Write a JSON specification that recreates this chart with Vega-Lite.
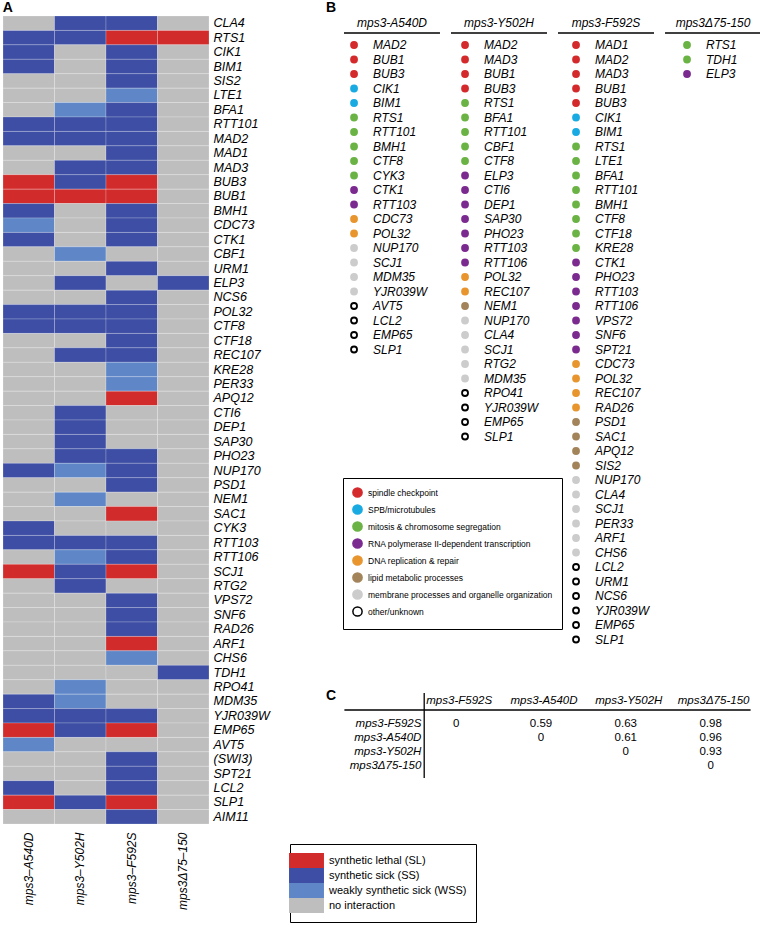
{
"$schema": "https://vega.github.io/schema/vega-lite/v6.json",
"background": "white",
"padding": {"left": 2, "top": 0, "right": 0, "bottom": 0},
"bounds": "flush",
"spacing": 128,
"config": {"view": {"stroke": null}, "font": "Liberation Sans", "title": {"font": "Liberation Sans", "color": "black"}},
"resolve": {"legend": {"color": "independent", "fill": "independent", "stroke": "independent"}},
"hconcat": [
{
"width": 206, "height": 808,
"title": {"text": "A", "anchor": "start", "fontSize": 14, "fontWeight": "bold", "offset": 1},
"data": {"values": [
{"g":"CLA4","m":"mps3–A540D","v":"N"},{"g":"CLA4","m":"mps3–Y502H","v":"SS"},{"g":"CLA4","m":"mps3–F592S","v":"SS"},{"g":"CLA4","m":"mps3Δ75–150","v":"N"},
{"g":"RTS1","m":"mps3–A540D","v":"SS"},{"g":"RTS1","m":"mps3–Y502H","v":"SS"},{"g":"RTS1","m":"mps3–F592S","v":"SL"},{"g":"RTS1","m":"mps3Δ75–150","v":"SL"},
{"g":"CIK1","m":"mps3–A540D","v":"SS"},{"g":"CIK1","m":"mps3–Y502H","v":"N"},{"g":"CIK1","m":"mps3–F592S","v":"SS"},{"g":"CIK1","m":"mps3Δ75–150","v":"N"},
{"g":"BIM1","m":"mps3–A540D","v":"SS"},{"g":"BIM1","m":"mps3–Y502H","v":"N"},{"g":"BIM1","m":"mps3–F592S","v":"SS"},{"g":"BIM1","m":"mps3Δ75–150","v":"N"},
{"g":"SIS2","m":"mps3–A540D","v":"N"},{"g":"SIS2","m":"mps3–Y502H","v":"N"},{"g":"SIS2","m":"mps3–F592S","v":"SS"},{"g":"SIS2","m":"mps3Δ75–150","v":"N"},
{"g":"LTE1","m":"mps3–A540D","v":"N"},{"g":"LTE1","m":"mps3–Y502H","v":"N"},{"g":"LTE1","m":"mps3–F592S","v":"WSS"},{"g":"LTE1","m":"mps3Δ75–150","v":"N"},
{"g":"BFA1","m":"mps3–A540D","v":"N"},{"g":"BFA1","m":"mps3–Y502H","v":"WSS"},{"g":"BFA1","m":"mps3–F592S","v":"SS"},{"g":"BFA1","m":"mps3Δ75–150","v":"N"},
{"g":"RTT101","m":"mps3–A540D","v":"SS"},{"g":"RTT101","m":"mps3–Y502H","v":"SS"},{"g":"RTT101","m":"mps3–F592S","v":"SS"},{"g":"RTT101","m":"mps3Δ75–150","v":"N"},
{"g":"MAD2","m":"mps3–A540D","v":"SS"},{"g":"MAD2","m":"mps3–Y502H","v":"SS"},{"g":"MAD2","m":"mps3–F592S","v":"SS"},{"g":"MAD2","m":"mps3Δ75–150","v":"N"},
{"g":"MAD1","m":"mps3–A540D","v":"N"},{"g":"MAD1","m":"mps3–Y502H","v":"N"},{"g":"MAD1","m":"mps3–F592S","v":"SS"},{"g":"MAD1","m":"mps3Δ75–150","v":"N"},
{"g":"MAD3","m":"mps3–A540D","v":"N"},{"g":"MAD3","m":"mps3–Y502H","v":"SS"},{"g":"MAD3","m":"mps3–F592S","v":"SS"},{"g":"MAD3","m":"mps3Δ75–150","v":"N"},
{"g":"BUB3","m":"mps3–A540D","v":"SL"},{"g":"BUB3","m":"mps3–Y502H","v":"SS"},{"g":"BUB3","m":"mps3–F592S","v":"SL"},{"g":"BUB3","m":"mps3Δ75–150","v":"N"},
{"g":"BUB1","m":"mps3–A540D","v":"SL"},{"g":"BUB1","m":"mps3–Y502H","v":"SL"},{"g":"BUB1","m":"mps3–F592S","v":"SL"},{"g":"BUB1","m":"mps3Δ75–150","v":"N"},
{"g":"BMH1","m":"mps3–A540D","v":"SS"},{"g":"BMH1","m":"mps3–Y502H","v":"N"},{"g":"BMH1","m":"mps3–F592S","v":"SS"},{"g":"BMH1","m":"mps3Δ75–150","v":"N"},
{"g":"CDC73","m":"mps3–A540D","v":"WSS"},{"g":"CDC73","m":"mps3–Y502H","v":"N"},{"g":"CDC73","m":"mps3–F592S","v":"SS"},{"g":"CDC73","m":"mps3Δ75–150","v":"N"},
{"g":"CTK1","m":"mps3–A540D","v":"SS"},{"g":"CTK1","m":"mps3–Y502H","v":"N"},{"g":"CTK1","m":"mps3–F592S","v":"SS"},{"g":"CTK1","m":"mps3Δ75–150","v":"N"},
{"g":"CBF1","m":"mps3–A540D","v":"N"},{"g":"CBF1","m":"mps3–Y502H","v":"WSS"},{"g":"CBF1","m":"mps3–F592S","v":"N"},{"g":"CBF1","m":"mps3Δ75–150","v":"N"},
{"g":"URM1","m":"mps3–A540D","v":"N"},{"g":"URM1","m":"mps3–Y502H","v":"N"},{"g":"URM1","m":"mps3–F592S","v":"SS"},{"g":"URM1","m":"mps3Δ75–150","v":"N"},
{"g":"ELP3","m":"mps3–A540D","v":"N"},{"g":"ELP3","m":"mps3–Y502H","v":"SS"},{"g":"ELP3","m":"mps3–F592S","v":"N"},{"g":"ELP3","m":"mps3Δ75–150","v":"SS"},
{"g":"NCS6","m":"mps3–A540D","v":"N"},{"g":"NCS6","m":"mps3–Y502H","v":"N"},{"g":"NCS6","m":"mps3–F592S","v":"SS"},{"g":"NCS6","m":"mps3Δ75–150","v":"N"},
{"g":"POL32","m":"mps3–A540D","v":"SS"},{"g":"POL32","m":"mps3–Y502H","v":"SS"},{"g":"POL32","m":"mps3–F592S","v":"SS"},{"g":"POL32","m":"mps3Δ75–150","v":"N"},
{"g":"CTF8","m":"mps3–A540D","v":"SS"},{"g":"CTF8","m":"mps3–Y502H","v":"SS"},{"g":"CTF8","m":"mps3–F592S","v":"SS"},{"g":"CTF8","m":"mps3Δ75–150","v":"N"},
{"g":"CTF18","m":"mps3–A540D","v":"N"},{"g":"CTF18","m":"mps3–Y502H","v":"N"},{"g":"CTF18","m":"mps3–F592S","v":"SS"},{"g":"CTF18","m":"mps3Δ75–150","v":"N"},
{"g":"REC107","m":"mps3–A540D","v":"N"},{"g":"REC107","m":"mps3–Y502H","v":"SS"},{"g":"REC107","m":"mps3–F592S","v":"SS"},{"g":"REC107","m":"mps3Δ75–150","v":"N"},
{"g":"KRE28","m":"mps3–A540D","v":"N"},{"g":"KRE28","m":"mps3–Y502H","v":"N"},{"g":"KRE28","m":"mps3–F592S","v":"WSS"},{"g":"KRE28","m":"mps3Δ75–150","v":"N"},
{"g":"PER33","m":"mps3–A540D","v":"N"},{"g":"PER33","m":"mps3–Y502H","v":"N"},{"g":"PER33","m":"mps3–F592S","v":"WSS"},{"g":"PER33","m":"mps3Δ75–150","v":"N"},
{"g":"APQ12","m":"mps3–A540D","v":"N"},{"g":"APQ12","m":"mps3–Y502H","v":"N"},{"g":"APQ12","m":"mps3–F592S","v":"SL"},{"g":"APQ12","m":"mps3Δ75–150","v":"N"},
{"g":"CTI6","m":"mps3–A540D","v":"N"},{"g":"CTI6","m":"mps3–Y502H","v":"SS"},{"g":"CTI6","m":"mps3–F592S","v":"N"},{"g":"CTI6","m":"mps3Δ75–150","v":"N"},
{"g":"DEP1","m":"mps3–A540D","v":"N"},{"g":"DEP1","m":"mps3–Y502H","v":"SS"},{"g":"DEP1","m":"mps3–F592S","v":"N"},{"g":"DEP1","m":"mps3Δ75–150","v":"N"},
{"g":"SAP30","m":"mps3–A540D","v":"N"},{"g":"SAP30","m":"mps3–Y502H","v":"SS"},{"g":"SAP30","m":"mps3–F592S","v":"N"},{"g":"SAP30","m":"mps3Δ75–150","v":"N"},
{"g":"PHO23","m":"mps3–A540D","v":"N"},{"g":"PHO23","m":"mps3–Y502H","v":"SS"},{"g":"PHO23","m":"mps3–F592S","v":"SS"},{"g":"PHO23","m":"mps3Δ75–150","v":"N"},
{"g":"NUP170","m":"mps3–A540D","v":"SS"},{"g":"NUP170","m":"mps3–Y502H","v":"WSS"},{"g":"NUP170","m":"mps3–F592S","v":"SS"},{"g":"NUP170","m":"mps3Δ75–150","v":"N"},
{"g":"PSD1","m":"mps3–A540D","v":"N"},{"g":"PSD1","m":"mps3–Y502H","v":"N"},{"g":"PSD1","m":"mps3–F592S","v":"SS"},{"g":"PSD1","m":"mps3Δ75–150","v":"N"},
{"g":"NEM1","m":"mps3–A540D","v":"N"},{"g":"NEM1","m":"mps3–Y502H","v":"WSS"},{"g":"NEM1","m":"mps3–F592S","v":"N"},{"g":"NEM1","m":"mps3Δ75–150","v":"N"},
{"g":"SAC1","m":"mps3–A540D","v":"N"},{"g":"SAC1","m":"mps3–Y502H","v":"N"},{"g":"SAC1","m":"mps3–F592S","v":"SL"},{"g":"SAC1","m":"mps3Δ75–150","v":"N"},
{"g":"CYK3","m":"mps3–A540D","v":"SS"},{"g":"CYK3","m":"mps3–Y502H","v":"N"},{"g":"CYK3","m":"mps3–F592S","v":"N"},{"g":"CYK3","m":"mps3Δ75–150","v":"N"},
{"g":"RTT103","m":"mps3–A540D","v":"SS"},{"g":"RTT103","m":"mps3–Y502H","v":"SS"},{"g":"RTT103","m":"mps3–F592S","v":"SS"},{"g":"RTT103","m":"mps3Δ75–150","v":"N"},
{"g":"RTT106","m":"mps3–A540D","v":"N"},{"g":"RTT106","m":"mps3–Y502H","v":"WSS"},{"g":"RTT106","m":"mps3–F592S","v":"SS"},{"g":"RTT106","m":"mps3Δ75–150","v":"N"},
{"g":"SCJ1","m":"mps3–A540D","v":"SL"},{"g":"SCJ1","m":"mps3–Y502H","v":"SS"},{"g":"SCJ1","m":"mps3–F592S","v":"SL"},{"g":"SCJ1","m":"mps3Δ75–150","v":"N"},
{"g":"RTG2","m":"mps3–A540D","v":"N"},{"g":"RTG2","m":"mps3–Y502H","v":"SS"},{"g":"RTG2","m":"mps3–F592S","v":"N"},{"g":"RTG2","m":"mps3Δ75–150","v":"N"},
{"g":"VPS72","m":"mps3–A540D","v":"N"},{"g":"VPS72","m":"mps3–Y502H","v":"N"},{"g":"VPS72","m":"mps3–F592S","v":"SS"},{"g":"VPS72","m":"mps3Δ75–150","v":"N"},
{"g":"SNF6","m":"mps3–A540D","v":"N"},{"g":"SNF6","m":"mps3–Y502H","v":"N"},{"g":"SNF6","m":"mps3–F592S","v":"SS"},{"g":"SNF6","m":"mps3Δ75–150","v":"N"},
{"g":"RAD26","m":"mps3–A540D","v":"N"},{"g":"RAD26","m":"mps3–Y502H","v":"N"},{"g":"RAD26","m":"mps3–F592S","v":"SS"},{"g":"RAD26","m":"mps3Δ75–150","v":"N"},
{"g":"ARF1","m":"mps3–A540D","v":"N"},{"g":"ARF1","m":"mps3–Y502H","v":"N"},{"g":"ARF1","m":"mps3–F592S","v":"SL"},{"g":"ARF1","m":"mps3Δ75–150","v":"N"},
{"g":"CHS6","m":"mps3–A540D","v":"N"},{"g":"CHS6","m":"mps3–Y502H","v":"N"},{"g":"CHS6","m":"mps3–F592S","v":"WSS"},{"g":"CHS6","m":"mps3Δ75–150","v":"N"},
{"g":"TDH1","m":"mps3–A540D","v":"N"},{"g":"TDH1","m":"mps3–Y502H","v":"N"},{"g":"TDH1","m":"mps3–F592S","v":"N"},{"g":"TDH1","m":"mps3Δ75–150","v":"SS"},
{"g":"RPO41","m":"mps3–A540D","v":"N"},{"g":"RPO41","m":"mps3–Y502H","v":"WSS"},{"g":"RPO41","m":"mps3–F592S","v":"N"},{"g":"RPO41","m":"mps3Δ75–150","v":"N"},
{"g":"MDM35","m":"mps3–A540D","v":"SS"},{"g":"MDM35","m":"mps3–Y502H","v":"WSS"},{"g":"MDM35","m":"mps3–F592S","v":"N"},{"g":"MDM35","m":"mps3Δ75–150","v":"N"},
{"g":"YJR039W","m":"mps3–A540D","v":"SS"},{"g":"YJR039W","m":"mps3–Y502H","v":"SS"},{"g":"YJR039W","m":"mps3–F592S","v":"SS"},{"g":"YJR039W","m":"mps3Δ75–150","v":"N"},
{"g":"EMP65","m":"mps3–A540D","v":"SL"},{"g":"EMP65","m":"mps3–Y502H","v":"SS"},{"g":"EMP65","m":"mps3–F592S","v":"SL"},{"g":"EMP65","m":"mps3Δ75–150","v":"N"},
{"g":"AVT5","m":"mps3–A540D","v":"WSS"},{"g":"AVT5","m":"mps3–Y502H","v":"N"},{"g":"AVT5","m":"mps3–F592S","v":"N"},{"g":"AVT5","m":"mps3Δ75–150","v":"N"},
{"g":"(SWI3)","m":"mps3–A540D","v":"N"},{"g":"(SWI3)","m":"mps3–Y502H","v":"N"},{"g":"(SWI3)","m":"mps3–F592S","v":"SS"},{"g":"(SWI3)","m":"mps3Δ75–150","v":"N"},
{"g":"SPT21","m":"mps3–A540D","v":"N"},{"g":"SPT21","m":"mps3–Y502H","v":"N"},{"g":"SPT21","m":"mps3–F592S","v":"SS"},{"g":"SPT21","m":"mps3Δ75–150","v":"N"},
{"g":"LCL2","m":"mps3–A540D","v":"SS"},{"g":"LCL2","m":"mps3–Y502H","v":"N"},{"g":"LCL2","m":"mps3–F592S","v":"SS"},{"g":"LCL2","m":"mps3Δ75–150","v":"N"},
{"g":"SLP1","m":"mps3–A540D","v":"SL"},{"g":"SLP1","m":"mps3–Y502H","v":"SS"},{"g":"SLP1","m":"mps3–F592S","v":"SL"},{"g":"SLP1","m":"mps3Δ75–150","v":"N"},
{"g":"AIM11","m":"mps3–A540D","v":"N"},{"g":"AIM11","m":"mps3–Y502H","v":"N"},{"g":"AIM11","m":"mps3–F592S","v":"SS"},{"g":"AIM11","m":"mps3Δ75–150","v":"N"}
]},
"mark": {"type": "rect", "stroke": "white", "strokeWidth": 0.6, "strokeOpacity": 0.35},
"encoding": {
"x": {"field": "m", "type": "nominal", "scale": {"domain": ["mps3–A540D","mps3–Y502H","mps3–F592S","mps3Δ75–150"], "paddingInner": 0, "paddingOuter": 0},
 "axis": {"orient": "bottom", "title": null, "labelAngle": -90, "ticks": false, "domain": false, "labelPadding": 8, "labelFont": "Liberation Sans", "labelFontSize": 12, "labelFontStyle": "italic", "labelColor": "black"}},
"y": {"field": "g", "type": "nominal", "scale": {"domain": ["CLA4","RTS1","CIK1","BIM1","SIS2","LTE1","BFA1","RTT101","MAD2","MAD1","MAD3","BUB3","BUB1","BMH1","CDC73","CTK1","CBF1","URM1","ELP3","NCS6","POL32","CTF8","CTF18","REC107","KRE28","PER33","APQ12","CTI6","DEP1","SAP30","PHO23","NUP170","PSD1","NEM1","SAC1","CYK3","RTT103","RTT106","SCJ1","RTG2","VPS72","SNF6","RAD26","ARF1","CHS6","TDH1","RPO41","MDM35","YJR039W","EMP65","AVT5","(SWI3)","SPT21","LCL2","SLP1","AIM11"], "paddingInner": 0, "paddingOuter": 0},
 "axis": {"orient": "right", "title": null, "ticks": false, "domain": false, "labelPadding": 4, "labelFont": "Liberation Sans", "labelFontSize": 12.5, "labelFontStyle": "italic", "labelColor": "black"}},
"color": {"field": "v", "type": "nominal", "scale": {"domain": ["SL","SS","WSS","N"], "range": ["#d22b2b","#3d4ea4","#5f87c8","#bebebe"]},
 "legend": {"orient": "none", "legendX": 287, "legendY": 828, "title": null, "symbolType": "M-2.33,-1H2.33V1H-2.33Z", "symbolSize": 225, "symbolStrokeWidth": 0, "symbolOpacity": 1, "rowPadding": 0, "labelOffset": 15, "labelFont": "Liberation Sans", "labelFontSize": 11, "labelColor": "black", "labelLimit": 300, "padding": 9, "strokeColor": "black", "fillColor": "white",
  "labelExpr": "{'SL':'synthetic lethal (SL)','SS':'synthetic sick (SS)','WSS':'weakly synthetic sick (WSS)','N':'no interaction'}[datum.label]"}}
}
},
{
"vconcat": [
{
"width": 424, "height": 667,
"title": {"text": "B", "anchor": "start", "fontSize": 14, "fontWeight": "bold", "offset": 1, "dx": -11},
"resolve": {"scale": {"x": "independent"}},
"layer": [
{
"data": {"values": [{"m": "mps3-A540D"}, {"m": "mps3-Y502H"}, {"m": "mps3-F592S"}, {"m": "mps3Δ75-150"}]},
"encoding": {
 "x": {"field": "m", "type": "nominal", "sort": null, "scale": {"type": "point", "domain": ["mps3-A540D","mps3-Y502H","mps3-F592S","mps3Δ75-150"], "padding": 0.481, "align": 0.534}, "axis": null},
 "y": {"datum": 1, "type": "quantitative", "scale": {"domain": [-1, 45], "reverse": true, "nice": false, "zero": false}, "axis": null}
},
"layer": [
 {"mark": {"type": "text", "fontSize": 12, "fontStyle": "italic", "font": "Liberation Sans", "color": "black", "align": "center", "baseline": "middle", "dy": -22}, "encoding": {"text": {"field": "m"}}},
 {"mark": {"type": "rule", "color": "black", "strokeWidth": 1.5, "xOffset": -48, "x2Offset": 48, "yOffset": -12, "y2Offset": -12}, "encoding": {"x2": {"field": "m"}}}
]
},
{
"data": {"values": [
{"m":"mps3-A540D","g":"MAD2","c":"sc"},{"m":"mps3-A540D","g":"BUB1","c":"sc"},{"m":"mps3-A540D","g":"BUB3","c":"sc"},{"m":"mps3-A540D","g":"CIK1","c":"spb"},{"m":"mps3-A540D","g":"BIM1","c":"spb"},{"m":"mps3-A540D","g":"RTS1","c":"mit"},{"m":"mps3-A540D","g":"RTT101","c":"mit"},{"m":"mps3-A540D","g":"BMH1","c":"mit"},{"m":"mps3-A540D","g":"CTF8","c":"mit"},{"m":"mps3-A540D","g":"CYK3","c":"mit"},{"m":"mps3-A540D","g":"CTK1","c":"rna"},{"m":"mps3-A540D","g":"RTT103","c":"rna"},{"m":"mps3-A540D","g":"CDC73","c":"dna"},{"m":"mps3-A540D","g":"POL32","c":"dna"},{"m":"mps3-A540D","g":"NUP170","c":"mem"},{"m":"mps3-A540D","g":"SCJ1","c":"mem"},{"m":"mps3-A540D","g":"MDM35","c":"mem"},{"m":"mps3-A540D","g":"YJR039W","c":"mem"},{"m":"mps3-A540D","g":"AVT5","c":"oth"},{"m":"mps3-A540D","g":"LCL2","c":"oth"},{"m":"mps3-A540D","g":"EMP65","c":"oth"},{"m":"mps3-A540D","g":"SLP1","c":"oth"},
{"m":"mps3-Y502H","g":"MAD2","c":"sc"},{"m":"mps3-Y502H","g":"MAD3","c":"sc"},{"m":"mps3-Y502H","g":"BUB1","c":"sc"},{"m":"mps3-Y502H","g":"BUB3","c":"sc"},{"m":"mps3-Y502H","g":"RTS1","c":"mit"},{"m":"mps3-Y502H","g":"BFA1","c":"mit"},{"m":"mps3-Y502H","g":"RTT101","c":"mit"},{"m":"mps3-Y502H","g":"CBF1","c":"mit"},{"m":"mps3-Y502H","g":"CTF8","c":"mit"},{"m":"mps3-Y502H","g":"ELP3","c":"rna"},{"m":"mps3-Y502H","g":"CTI6","c":"rna"},{"m":"mps3-Y502H","g":"DEP1","c":"rna"},{"m":"mps3-Y502H","g":"SAP30","c":"rna"},{"m":"mps3-Y502H","g":"PHO23","c":"rna"},{"m":"mps3-Y502H","g":"RTT103","c":"rna"},{"m":"mps3-Y502H","g":"RTT106","c":"rna"},{"m":"mps3-Y502H","g":"POL32","c":"dna"},{"m":"mps3-Y502H","g":"REC107","c":"dna"},{"m":"mps3-Y502H","g":"NEM1","c":"lip"},{"m":"mps3-Y502H","g":"NUP170","c":"mem"},{"m":"mps3-Y502H","g":"CLA4","c":"mem"},{"m":"mps3-Y502H","g":"SCJ1","c":"mem"},{"m":"mps3-Y502H","g":"RTG2","c":"mem"},{"m":"mps3-Y502H","g":"MDM35","c":"mem"},{"m":"mps3-Y502H","g":"RPO41","c":"oth"},{"m":"mps3-Y502H","g":"YJR039W","c":"oth"},{"m":"mps3-Y502H","g":"EMP65","c":"oth"},{"m":"mps3-Y502H","g":"SLP1","c":"oth"},
{"m":"mps3-F592S","g":"MAD1","c":"sc"},{"m":"mps3-F592S","g":"MAD2","c":"sc"},{"m":"mps3-F592S","g":"MAD3","c":"sc"},{"m":"mps3-F592S","g":"BUB1","c":"sc"},{"m":"mps3-F592S","g":"BUB3","c":"sc"},{"m":"mps3-F592S","g":"CIK1","c":"spb"},{"m":"mps3-F592S","g":"BIM1","c":"spb"},{"m":"mps3-F592S","g":"RTS1","c":"mit"},{"m":"mps3-F592S","g":"LTE1","c":"mit"},{"m":"mps3-F592S","g":"BFA1","c":"mit"},{"m":"mps3-F592S","g":"RTT101","c":"mit"},{"m":"mps3-F592S","g":"BMH1","c":"mit"},{"m":"mps3-F592S","g":"CTF8","c":"mit"},{"m":"mps3-F592S","g":"CTF18","c":"mit"},{"m":"mps3-F592S","g":"KRE28","c":"mit"},{"m":"mps3-F592S","g":"CTK1","c":"rna"},{"m":"mps3-F592S","g":"PHO23","c":"rna"},{"m":"mps3-F592S","g":"RTT103","c":"rna"},{"m":"mps3-F592S","g":"RTT106","c":"rna"},{"m":"mps3-F592S","g":"VPS72","c":"rna"},{"m":"mps3-F592S","g":"SNF6","c":"rna"},{"m":"mps3-F592S","g":"SPT21","c":"rna"},{"m":"mps3-F592S","g":"CDC73","c":"dna"},{"m":"mps3-F592S","g":"POL32","c":"dna"},{"m":"mps3-F592S","g":"REC107","c":"dna"},{"m":"mps3-F592S","g":"RAD26","c":"dna"},{"m":"mps3-F592S","g":"PSD1","c":"lip"},{"m":"mps3-F592S","g":"SAC1","c":"lip"},{"m":"mps3-F592S","g":"APQ12","c":"lip"},{"m":"mps3-F592S","g":"SIS2","c":"lip"},{"m":"mps3-F592S","g":"NUP170","c":"mem"},{"m":"mps3-F592S","g":"CLA4","c":"mem"},{"m":"mps3-F592S","g":"SCJ1","c":"mem"},{"m":"mps3-F592S","g":"PER33","c":"mem"},{"m":"mps3-F592S","g":"ARF1","c":"mem"},{"m":"mps3-F592S","g":"CHS6","c":"mem"},{"m":"mps3-F592S","g":"LCL2","c":"oth"},{"m":"mps3-F592S","g":"URM1","c":"oth"},{"m":"mps3-F592S","g":"NCS6","c":"oth"},{"m":"mps3-F592S","g":"YJR039W","c":"oth"},{"m":"mps3-F592S","g":"EMP65","c":"oth"},{"m":"mps3-F592S","g":"SLP1","c":"oth"},
{"m":"mps3Δ75-150","g":"RTS1","c":"mit"},{"m":"mps3Δ75-150","g":"TDH1","c":"mit"},{"m":"mps3Δ75-150","g":"ELP3","c":"rna"}
]},
"transform": [{"window": [{"op": "row_number", "as": "r"}], "groupby": ["m"]}],
"encoding": {
 "x": {"field": "m", "type": "nominal", "sort": null, "scale": {"type": "point", "domain": ["mps3-A540D","mps3-Y502H","mps3-F592S","mps3Δ75-150"], "padding": 0.41, "align": 0.396}, "axis": null},
 "y": {"field": "r", "type": "quantitative", "scale": {"domain": [-1, 45], "reverse": true, "nice": false, "zero": false}, "axis": null}
},
"layer": [
 {"mark": {"type": "point", "shape": "circle", "filled": true, "size": 36, "strokeWidth": 1.8, "opacity": 1, "xOffset": -19},
  "encoding": {
   "fill": {"field": "c", "type": "nominal", "scale": {"domain": ["sc","spb","mit","rna","dna","lip","mem","oth"], "range": ["#d42a2c","#19aae2","#6ab344","#7b2a8f","#e8952e","#a3845a","#cccccc","#ffffff"]},
    "legend": {"orient": "none", "legendX": 6, "legendY": 462, "title": null, "symbolSize": 85, "symbolStrokeWidth": 1.5, "rowPadding": 0, "labelOffset": 5, "labelFont": "Liberation Sans", "labelFontSize": 8.5, "labelColor": "black", "labelLimit": 400, "padding": 9, "strokeColor": "black", "fillColor": "white",
     "labelExpr": "{'sc':'spindle checkpoint','spb':'SPB/microtubules','mit':'mitosis & chromosome segregation','rna':'RNA polymerase II-dependent transcription','dna':'DNA replication & repair','lip':'lipid metabolic processes','mem':'membrane processes and organelle organization','oth':'other/unknown'}[datum.label]"}},
   "stroke": {"field": "c", "type": "nominal", "scale": {"domain": ["sc","spb","mit","rna","dna","lip","mem","oth"], "range": ["#d42a2c","#19aae2","#6ab344","#7b2a8f","#e8952e","#a3845a","#cccccc","#000000"]},
    "legend": {"orient": "none", "legendX": 6, "legendY": 462, "title": null, "symbolSize": 85, "symbolStrokeWidth": 1.5, "rowPadding": 0, "labelOffset": 5, "labelFont": "Liberation Sans", "labelFontSize": 8.5, "labelColor": "black", "labelLimit": 400, "padding": 9, "strokeColor": "black", "fillColor": "white",
     "labelExpr": "{'sc':'spindle checkpoint','spb':'SPB/microtubules','mit':'mitosis & chromosome segregation','rna':'RNA polymerase II-dependent transcription','dna':'DNA replication & repair','lip':'lipid metabolic processes','mem':'membrane processes and organelle organization','oth':'other/unknown'}[datum.label]"}}
  }},
 {"mark": {"type": "text", "fontSize": 12, "fontStyle": "italic", "font": "Liberation Sans", "color": "black", "align": "left", "baseline": "middle"},
  "encoding": {"text": {"field": "g"}}}
]
}
]
},
{
"width": 424, "height": 70,
"title": {"text": "C", "anchor": "start", "fontSize": 14, "fontWeight": "bold", "offset": 0, "dx": -11, "dy": 11},
"layer": [
{
"data": {"values": [
{"row":"mps3-F592S","col":"mps3-F592S","v":"0"},{"row":"mps3-F592S","col":"mps3-A540D","v":"0.59"},{"row":"mps3-F592S","col":"mps3-Y502H","v":"0.63"},{"row":"mps3-F592S","col":"mps3Δ75-150","v":"0.98"},
{"row":"mps3-A540D","col":"mps3-A540D","v":"0"},{"row":"mps3-A540D","col":"mps3-Y502H","v":"0.61"},{"row":"mps3-A540D","col":"mps3Δ75-150","v":"0.96"},
{"row":"mps3-Y502H","col":"mps3-Y502H","v":"0"},{"row":"mps3-Y502H","col":"mps3Δ75-150","v":"0.93"},
{"row":"mps3Δ75-150","col":"mps3Δ75-150","v":"0"}
]},
"mark": {"type": "text", "fontSize": 11.5, "font": "Liberation Sans", "color": "black", "align": "center", "baseline": "middle", "dx": -8},
"encoding": {
 "x": {"field": "col", "type": "nominal", "scale": {"domain": ["_","mps3-F592S","mps3-A540D","mps3-Y502H","mps3Δ75-150"], "paddingInner": 0, "paddingOuter": 0}, "axis": null},
 "y": {"field": "row", "type": "nominal", "scale": {"domain": ["_","mps3-F592S","mps3-A540D","mps3-Y502H","mps3Δ75-150"], "paddingInner": 0, "paddingOuter": 0}, "axis": null},
 "text": {"field": "v"}
}
},
{
"data": {"values": [{"row":"mps3-F592S"},{"row":"mps3-A540D"},{"row":"mps3-Y502H"},{"row":"mps3Δ75-150"}]},
"mark": {"type": "text", "fontSize": 11.5, "fontStyle": "italic", "font": "Liberation Sans", "color": "black", "align": "right", "baseline": "middle", "dx": 42},
"encoding": {
 "x": {"datum": "_", "type": "nominal"},
 "y": {"field": "row", "type": "nominal"},
 "text": {"field": "row"}
}
},
{
"data": {"values": [{"col":"mps3-F592S"},{"col":"mps3-A540D"},{"col":"mps3-Y502H"},{"col":"mps3Δ75-150"}]},
"mark": {"type": "text", "fontSize": 11.5, "fontStyle": "italic", "font": "Liberation Sans", "color": "black", "align": "center", "baseline": "middle", "dx": -5, "dy": -9},
"encoding": {
 "x": {"field": "col", "type": "nominal"},
 "y": {"datum": "_", "type": "nominal"},
 "text": {"field": "col"}
}
},
{
"data": {"values": [{}]},
"mark": {"type": "rule", "color": "black", "strokeWidth": 1.3, "xOffset": -35, "x2Offset": 32},
"encoding": {"x": {"datum": "_", "type": "nominal"}, "x2": {"datum": "mps3Δ75-150"}, "y": {"datum": "_", "type": "nominal"}}
},
{
"data": {"values": [{}]},
"mark": {"type": "rule", "color": "black", "strokeWidth": 1.3, "xOffset": -40, "yOffset": -17, "y2Offset": 12},
"encoding": {"x": {"datum": "mps3-F592S", "type": "nominal"}, "y": {"datum": "_", "type": "nominal"}, "y2": {"datum": "mps3Δ75-150"}}
}
]
}
],
"spacing": 20,
"bounds": "flush"
}
]
}
